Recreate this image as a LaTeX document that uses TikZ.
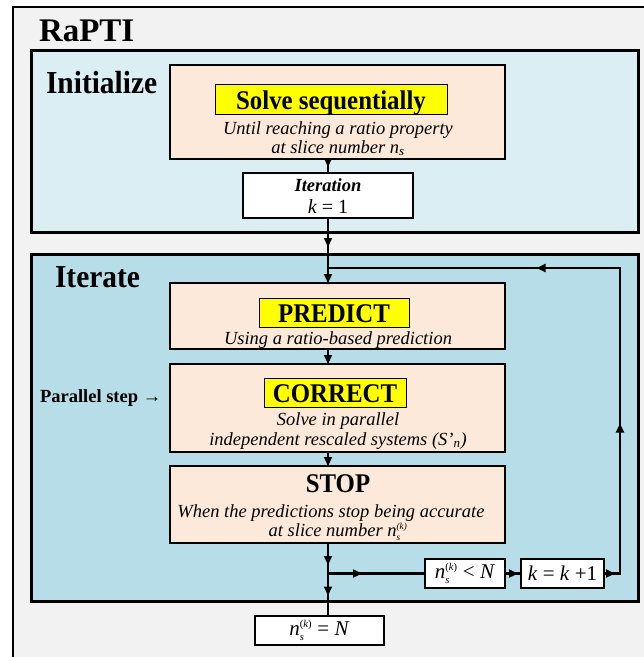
\documentclass[tikz,border=0pt]{standalone}
\usepackage{fontspec}
\usepackage{amsmath}
\setmainfont{Liberation Serif}
\newfontfamily\narrowserif[FakeStretch=0.92]{Liberation Serif}
\usetikzlibrary{arrows.meta,decorations.markings}

\definecolor{sheet}{HTML}{F2F2F2}
\definecolor{initfill}{HTML}{DAEEF3}
\definecolor{iterfill}{HTML}{B7DEE8}
\definecolor{stepfill}{HTML}{FDE9D9}
\definecolor{marker}{HTML}{FFFF00}

% n_s^{(k)} written with the text font, small indices
\newcommand{\nsk}{\textit{n}$_{\scriptscriptstyle\textit{s}}^{\scriptscriptstyle\text{(\textit{k})}}$}

\begin{document}
\begin{tikzpicture}[x=1pt,y=-1pt,
  every node/.style={inner sep=0pt,outer sep=0pt},
  panel/.style={draw=black,line width=3pt},
  stepbox/.style={draw=black,line width=2.4pt,fill=stepfill,rectangle},
  whitebox/.style={draw=black,line width=2.4pt,fill=white,rectangle},
  tagbox/.style={draw=black,line width=1pt,fill=marker,rectangle},
  titletext/.style={font=\fontsize{33}{36}\selectfont\bfseries,anchor=base west},
  paneltext/.style={font=\narrowserif\fontsize{32}{34}\selectfont\bfseries,anchor=base west},
  headtext/.style={font=\narrowserif\fontsize{27}{30}\selectfont\bfseries,anchor=base},
  notetext/.style={font=\fontsize{18.5}{22}\selectfont\itshape,anchor=base},
  boxtext/.style={font=\fontsize{21}{24}\selectfont,anchor=center},
  flow/.style={line width=2.2pt},
  endtip/.style={-{Triangle[length=9pt,width=8pt]}},
  tipat/.style={postaction={decorate},decoration={markings,
      mark=at position #1 with {\arrow{Triangle[length=9pt,width=8pt]}}}}
]
\useasboundingbox (0,0) rectangle (644,657);
\clip (0,0) rectangle (644,657);

% outer sheet
\draw[fill=sheet,line width=2.2pt] (13,7) rectangle (700,720);
\node[titletext] (title) at (39,41) {RaPTI};

% panels
\draw[panel,fill=initfill] (31,50) rectangle (638,232);
\draw[panel,fill=iterfill] (31,254) rectangle (638,601);
\node[paneltext] (initlabel) at (46,93) {Initialize};
\node[paneltext] (iterlabel) at (55,287) {Iterate};

% initialisation step
\node[stepbox,minimum width=335pt,minimum height=94pt] (solve) at (337.5,112) {};
\node[tagbox,minimum width=232pt,minimum height=30pt] (solvetag) at (331,99) {};
\node[headtext] (solvehead) at (331,109) {Solve sequentially};
\node[notetext] (solvel1) at (338,134) {Until reaching a ratio property};
\node[notetext] (solvel2) at (338,153) {at slice number \textit{n}$_{\textit{s}}$};

\node[whitebox,minimum width=170pt,minimum height=45pt] (iter) at (328,195.5) {};
\node[font=\fontsize{18.5}{22}\selectfont\bfseries\itshape,anchor=base] (iterhead) at (328,191) {Iteration};
\node[font=\fontsize{20}{24}\selectfont,anchor=base] (iterk) at (328,213) {\textit{k} = 1};

% iteration steps
\node[stepbox,minimum width=335pt,minimum height=66pt] (predict) at (337.5,316) {};
\node[tagbox,minimum width=150pt,minimum height=29pt] (predicttag) at (334,312.5) {};
\node[headtext] (predicthead) at (334,322) {PREDICT};
\node[notetext] (predictl1) at (338,344) {Using a ratio-based prediction};

\node[stepbox,minimum width=335pt,minimum height=88pt] (correct) at (337.5,408) {};
\node[tagbox,minimum width=142pt,minimum height=29pt] (correcttag) at (335,392.5) {};
\node[headtext] (correcthead) at (335,402) {CORRECT};
\node[notetext] (correctl1) at (338,425) {Solve in parallel};
\node[notetext] (correctl2) at (338,445) {independent rescaled systems (\textit{S'}$_{\textit{n}}$)};
\node[font=\fontsize{18.5}{22}\selectfont\bfseries,anchor=base west] (parlabel) at (40,402) {Parallel step →};

\node[stepbox,minimum width=335pt,minimum height=77pt] (stop) at (337.5,504.5) {};
\node[headtext] (stophead) at (338,492) {STOP};
\node[notetext] (stopl1) at (331,517) {When the predictions stop being accurate};
\node[notetext] (stopl2) at (338,536) {at slice number \nsk};

% decision boxes
\node[whitebox,minimum width=80pt,minimum height=29pt,boxtext] (nlt) at (465,573.5) {\nsk\ < \textit{N}};
\node[whitebox,minimum width=83pt,minimum height=29pt,boxtext] (kinc) at (562.5,573.5) {\textit{k} = \textit{k} +1};
\node[whitebox,minimum width=129pt,minimum height=29pt,boxtext] (neq) at (319.5,630.5) {\nsk\ = \textit{N}};

% junctions of the flow lines
\coordinate (merge) at (328,268);
\coordinate (split) at (328,573.5);
\coordinate (loopA) at (620,573.5);
\coordinate (loopB) at (620,268);

% connectors
\draw[flow,tipat=8pt] (iter.north |- solve.south) -- (iter.north);
\draw[flow,tipat=29pt] (iter.south) -- (merge);
\draw[flow,endtip] (merge) -- (merge |- predict.north);
\draw[flow,endtip] (merge |- predict.south) -- (merge |- correct.north);
\draw[flow,endtip] (merge |- correct.south) -- (merge |- stop.north);
\draw[flow,tipat=22pt] (merge |- stop.south) -- (split);
\draw[flow,tipat=22pt] (split) -- (split |- neq.north);
\draw[flow,tipat=34pt] (split) -- (nlt.west);
\draw[flow,tipat=13pt] (nlt.east) -- (kinc.west);
\draw[flow,line join=miter,postaction={decorate},decoration={markings,
    mark=at position 11pt with {\arrow{Triangle[length=9pt,width=8pt]}},
    mark=at position 166pt with {\arrow{Triangle[length=9pt,width=8pt]}},
    mark=at position 405pt with {\arrow{Triangle[length=9pt,width=8pt]}}}]
  (kinc.east) -- (loopA) -- (loopB) -- (merge);
\end{tikzpicture}
\end{document}
